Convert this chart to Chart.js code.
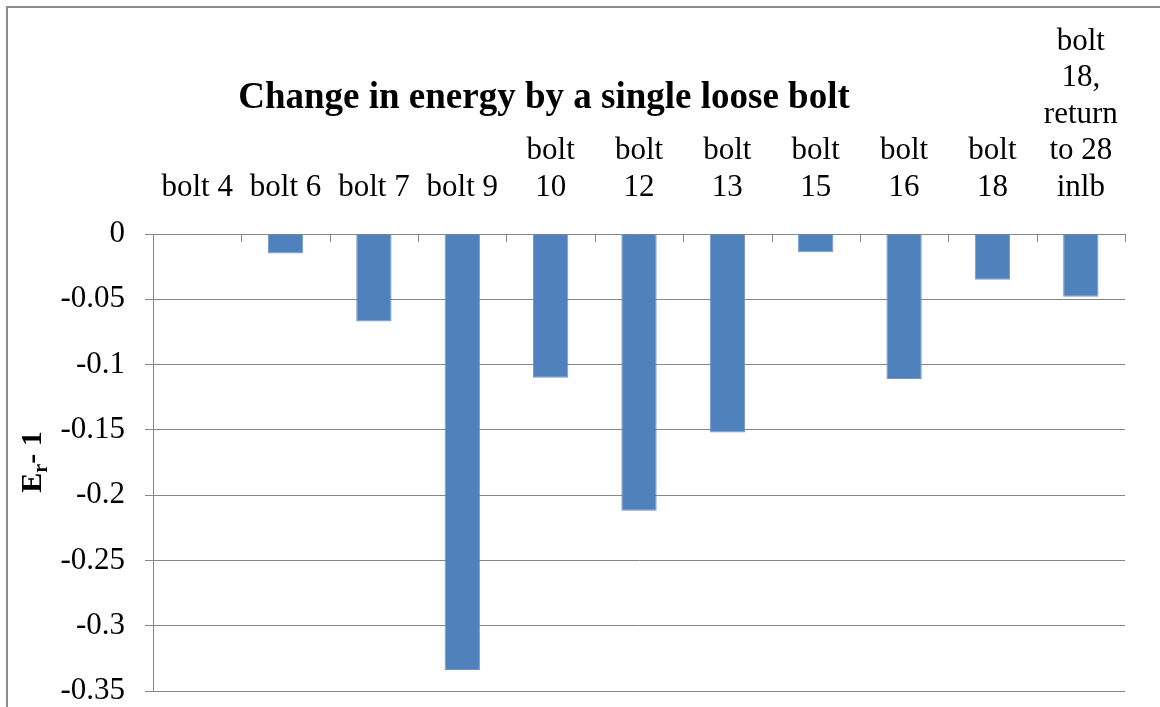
<!DOCTYPE html>
<html>
<head>
<meta charset="utf-8">
<script src="https://cdn.jsdelivr.net/npm/chart.js@4/dist/chart.umd.min.js"></script>
<style>
  html, body { margin: 0; padding: 0; background: #fff; }
  #c { display: block; }
</style>
</head>
<body>
<canvas id="c" width="1160" height="707"></canvas>
<script>
// ---- data ----
const categories = [
  ["bolt 4"], ["bolt 6"], ["bolt 7"], ["bolt 9"],
  ["bolt", "10"], ["bolt", "12"], ["bolt", "13"], ["bolt", "15"],
  ["bolt", "16"], ["bolt", "18"],
  ["bolt", "18,", "return", "to 28", "inlb"]
];
const energyChange = [-0.0008, -0.015, -0.067, -0.334, -0.110, -0.212, -0.152, -0.014, -0.111, -0.035, -0.048];
const yTicks = [0, -0.05, -0.1, -0.15, -0.2, -0.25, -0.3, -0.35];
const chartTitle = "Change in energy by a single loose bolt";

const SERIF = "'Liberation Serif', 'Times New Roman', serif";
const GRID = '#868686';

const decor = {
  id: 'decor',
  afterDraw(chart) {
    const ctx = chart.ctx;
    const area = chart.chartArea;
    ctx.save();
    // outer frame
    ctx.strokeStyle = '#8c8c8c';
    ctx.lineWidth = 2;
    ctx.beginPath();
    ctx.moveTo(7, 800); ctx.lineTo(7, 7); ctx.lineTo(1200, 7);
    ctx.stroke();
    // category tick marks going down from zero line
    ctx.strokeStyle = GRID;
    ctx.lineWidth = 1;
    const n = categories.length;
    const w = (area.right - area.left) / n;
    ctx.beginPath();
    for (let i = 0; i <= n; i++) {
      const px = Math.round(area.left + i * w) + 0.5;
      ctx.moveTo(px, area.top);
      ctx.lineTo(px, area.top + 8);
    }
    ctx.stroke();
    // title
    ctx.fillStyle = '#000';
    ctx.font = "bold 37px " + SERIF;
    ctx.textAlign = 'center';
    ctx.textBaseline = 'alphabetic';
    ctx.fillText(chartTitle, 544, 108);
    // y axis title  E_r - 1
    ctx.translate(41, 462);
    ctx.rotate(-Math.PI / 2);
    const big = "bold 30px " + SERIF;
    const small = "bold 20px " + SERIF;
    ctx.font = big; const wE = ctx.measureText("E").width;
    ctx.font = small; const wr = ctx.measureText("r").width;
    ctx.font = big; const wRest = ctx.measureText("- 1").width;
    const total = wE + wr + wRest;
    let cx = -total / 2;
    ctx.textAlign = 'left';
    ctx.font = big; ctx.fillText("E", cx, 0); cx += wE;
    ctx.font = small; ctx.fillText("r", cx, 6); cx += wr;
    ctx.font = big; ctx.fillText("- 1", cx, 0);
    ctx.restore();
  }
};

new Chart(document.getElementById('c'), {
  type: 'bar',
  data: {
    labels: categories,
    datasets: [{
      data: energyChange,
      backgroundColor: '#4f81bd',
      borderColor: '#7396c8',
      borderWidth: 1,
      categoryPercentage: 1.0,
      barPercentage: 0.4
    }]
  },
  options: {
    responsive: false,
    animation: false,
    layout: { padding: { left: 0, right: 35, top: 0, bottom: 16 } },
    plugins: { legend: { display: false }, title: { display: false }, tooltip: { enabled: false } },
    scales: {
      x: {
        position: 'top',
        grid: { display: false },
        border: { display: true, color: GRID, width: 1 },
        ticks: {
          color: '#000',
          font: { family: SERIF, size: 31, lineHeight: '36.5px' },
          padding: 20,
          maxRotation: 0,
          autoSkip: false
        },
        afterFit(s) { s.height = 234; s.paddingLeft = 0; s.paddingRight = 0; }
      },
      y: {
        min: -0.35,
        max: 0,
        afterBuildTicks(s) { s.ticks = yTicks.map(v => ({ value: v })); },
        grid: { color: GRID, lineWidth: 1, tickLength: 8 },
        border: { display: true, color: GRID, width: 1 },
        ticks: {
          color: '#000',
          font: { family: SERIF, size: 31 },
          padding: 20,
          callback: v => String(Math.round(v * 100) / 100)
        },
        afterFit(s) { s.width = 153; s.paddingTop = 0; s.paddingBottom = 0; }
      }
    }
  },
  plugins: [decor]
});
</script>
</body>
</html>
